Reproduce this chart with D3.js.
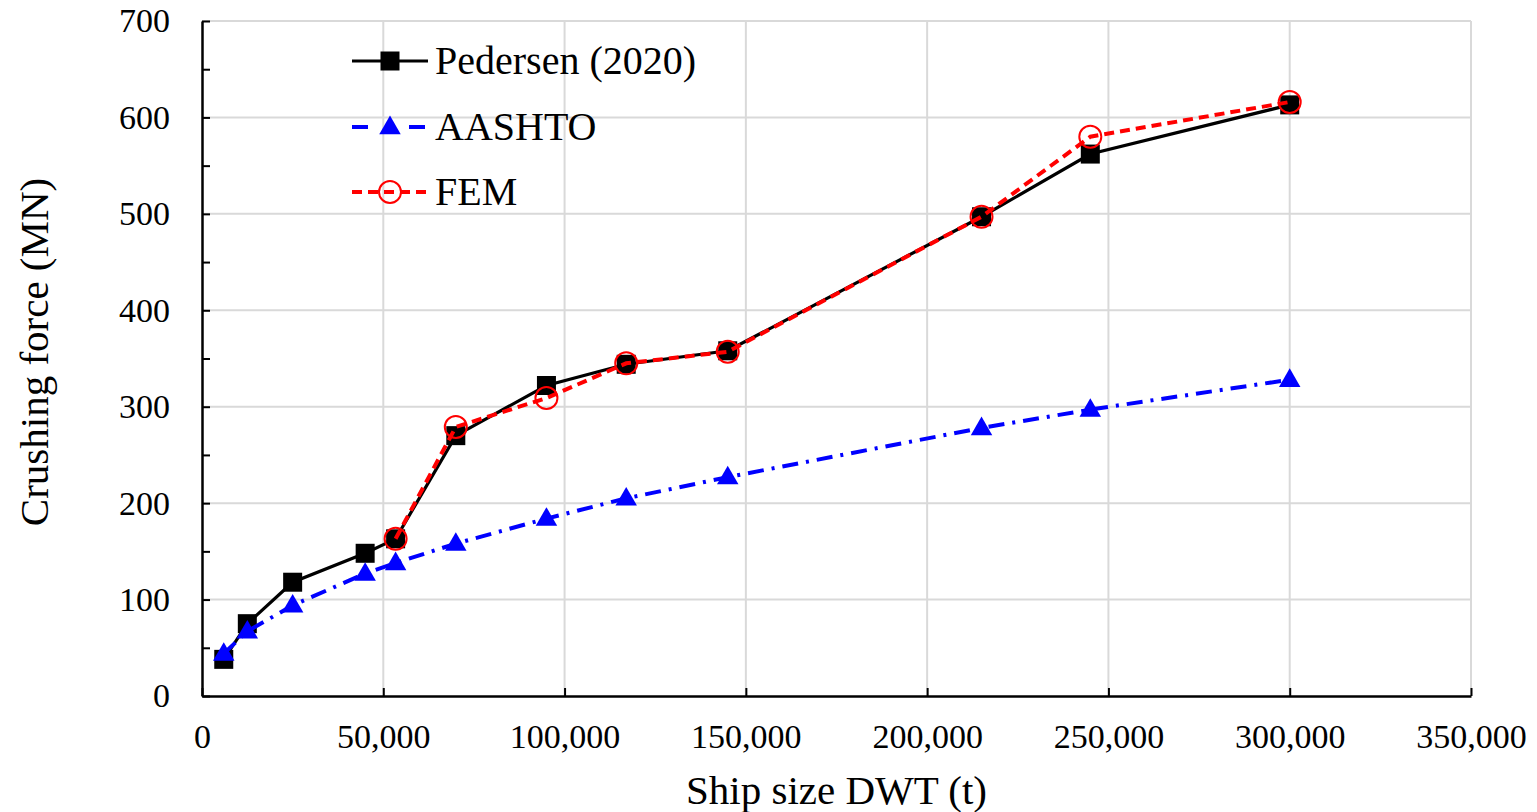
<!DOCTYPE html>
<html lang="en">
<head>
<meta charset="utf-8">
<title>Crushing force vs ship size</title>
<script src="https://cdn.jsdelivr.net/npm/d3@7"></script>
<style>
  body { margin: 0; background: #fff; }
  text { font-family: "Liberation Serif", "Times New Roman", serif; fill: #000; }
</style>
</head>
<body>
<svg id="chart"></svg>
<script>
// ship sizes (DWT, t)
var dwt = [6000, 12500, 25000, 45000, 53400, 70000, 95000, 117000, 145000, 215000, 245000, 300000];
// crushing force (MN)
var pedersen = [38, 75, 118, 148, 163, 270, 322, 344, 358, 497, 562, 613];
var aashto = [44, 67, 94, 127, 138, 158, 184, 205, 227, 278, 297, 328];
// FEM only from 53,400 up
var femDwt = [53400, 70000, 95000, 117000, 145000, 215000, 245000, 300000];
var fem = [163, 279, 309, 345, 357, 497, 580, 616];

var xTicks = [0, 50000, 100000, 150000, 200000, 250000, 300000, 350000];
var yTicks = [0, 100, 200, 300, 400, 500, 600, 700];
var legendNames = ["Pedersen (2020)", "AASHTO", "FEM"];

var width = 1537, height = 812;
var margin = {left: 202, right: 66, top: 21, bottom: 116};

var svg = d3.select("#chart")
    .attr("width", width)
    .attr("height", height);

var x = d3.scaleLinear().domain([0, 350000]).range([margin.left, width - margin.right]);
var y = d3.scaleLinear().domain([0, 700]).range([height - margin.bottom, margin.top]);

// grid
svg.append("g")
    .selectAll("line.h")
    .data(yTicks.slice(1))
    .enter().append("line")
    .attr("x1", x(0)).attr("x2", x(350000))
    .attr("y1", d => y(d)).attr("y2", d => y(d))
    .attr("stroke", "#d9d9d9").attr("stroke-width", 2);

svg.append("g")
    .selectAll("line.v")
    .data(xTicks.slice(1))
    .enter().append("line")
    .attr("x1", d => x(d)).attr("x2", d => x(d))
    .attr("y1", y(0)).attr("y2", y(700))
    .attr("stroke", "#d9d9d9").attr("stroke-width", 2);

// axes, ticks pointing inward
var xAxis = svg.append("g")
    .attr("transform", "translate(0," + y(0) + ")")
    .call(d3.axisBottom(x).tickValues(xTicks).tickSizeInner(-8).tickSizeOuter(0)
        .tickPadding(28).tickFormat(d3.format(",")));

var yAxis = svg.append("g")
    .attr("transform", "translate(" + x(0) + ",0)")
    .call(d3.axisLeft(y).tickValues(d3.range(0, 701, 50)).tickSizeInner(-8).tickSizeOuter(0)
        .tickPadding(32).tickFormat(d => d % 100 === 0 ? d : ""));

[xAxis, yAxis].forEach(function(g) {
    g.select(".domain").attr("stroke", "#000").attr("stroke-width", 2.5);
    g.selectAll(".tick line").attr("stroke", "#000").attr("stroke-width", 2);
    g.selectAll(".tick text").style("font-size", "34px")
        .style("font-family", "'Liberation Serif', serif").attr("fill", "#000");
});
xAxis.selectAll(".tick text").attr("dy", "0.71em");

// axis titles
svg.append("text")
    .attr("x", (x(0) + x(350000)) / 2)
    .attr("y", 804)
    .attr("text-anchor", "middle")
    .style("font-size", "41px")
    .text("Ship size DWT (t)");

svg.append("text")
    .attr("transform", "translate(48," + 352 + ") rotate(-90)")
    .attr("text-anchor", "middle")
    .style("font-size", "41px")
    .text("Crushing force (MN)");

var line = d3.line().x(d => x(d[0])).y(d => y(d[1]));

var pedData = dwt.map((d, i) => [d, pedersen[i]]);
var aaData = dwt.map((d, i) => [d, aashto[i]]);
var femData = femDwt.map((d, i) => [d, fem[i]]);

var tri = d3.symbol().type(d3.symbolTriangle).size(200);
var sq = 19;

// Pedersen
svg.append("path").datum(pedData)
    .attr("d", line).attr("fill", "none")
    .attr("stroke", "#000").attr("stroke-width", 3.2);
svg.append("g").selectAll("rect").data(pedData).enter().append("rect")
    .attr("x", d => x(d[0]) - sq / 2).attr("y", d => y(d[1]) - sq / 2)
    .attr("width", sq).attr("height", sq).attr("fill", "#000");

// AASHTO
svg.append("path").datum(aaData)
    .attr("d", line).attr("fill", "none")
    .attr("stroke", "#0000ff").attr("stroke-width", 4)
    .attr("stroke-dasharray", "16,8,3,8");
svg.append("g").selectAll("path").data(aaData).enter().append("path")
    .attr("d", tri)
    .attr("transform", d => "translate(" + x(d[0]) + "," + (y(d[1]) + 1) + ")")
    .attr("fill", "#0000ff");

// FEM
svg.append("path").datum(femData)
    .attr("d", line).attr("fill", "none")
    .attr("stroke", "#ff0000").attr("stroke-width", 4)
    .attr("stroke-dasharray", "10,6");
svg.append("g").selectAll("circle").data(femData).enter().append("circle")
    .attr("cx", d => x(d[0])).attr("cy", d => y(d[1]))
    .attr("r", 11).attr("fill", "none")
    .attr("stroke", "#ff0000").attr("stroke-width", 2);

// legend
var legY = [61, 127, 192];
var leg = svg.append("g");
leg.append("line").attr("x1", 352).attr("x2", 428).attr("y1", legY[0]).attr("y2", legY[0])
    .attr("stroke", "#000").attr("stroke-width", 3.2);
leg.append("rect").attr("x", 390 - sq / 2).attr("y", legY[0] - sq / 2).attr("width", sq).attr("height", sq)
    .attr("fill", "#000");
leg.append("line").attr("x1", 352).attr("x2", 368).attr("y1", legY[1]).attr("y2", legY[1])
    .attr("stroke", "#0000ff").attr("stroke-width", 4);
leg.append("line").attr("x1", 409).attr("x2", 425).attr("y1", legY[1]).attr("y2", legY[1])
    .attr("stroke", "#0000ff").attr("stroke-width", 4);
leg.append("path").attr("d", tri).attr("transform", "translate(390," + (legY[1] + 1) + ")")
    .attr("fill", "#0000ff");
leg.append("line").attr("x1", 352).attr("x2", 428).attr("y1", legY[2]).attr("y2", legY[2])
    .attr("stroke", "#ff0000").attr("stroke-width", 4).attr("stroke-dasharray", "10,6");
leg.append("circle").attr("cx", 390).attr("cy", legY[2]).attr("r", 11)
    .attr("fill", "none").attr("stroke", "#ff0000").attr("stroke-width", 2);

leg.selectAll("text.lab").data(legendNames).enter().append("text")
    .attr("x", 435).attr("y", (d, i) => legY[i] + 13)
    .style("font-size", "40px")
    .text(d => d);
</script>
</body>
</html>
